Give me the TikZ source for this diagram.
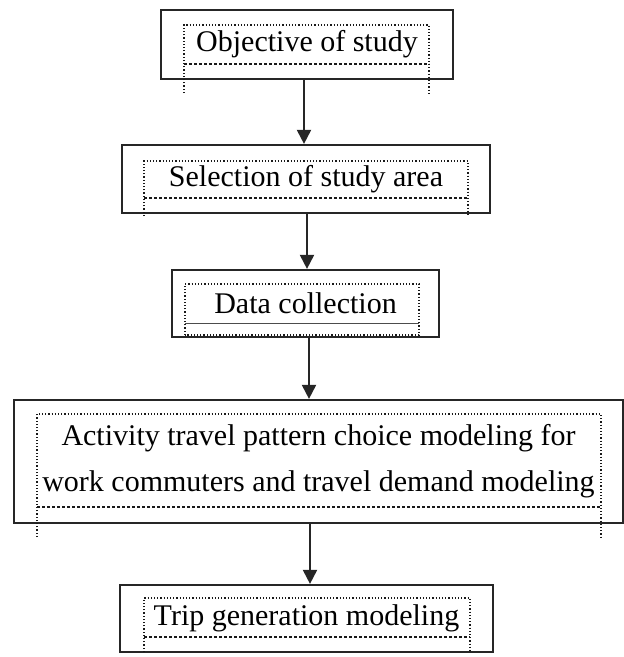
\documentclass[tikz,border=0pt]{standalone}
\usepackage{fontspec}
\setmainfont{Liberation Serif}
\usetikzlibrary{arrows.meta}
\tikzset{
  stepbox/.style={draw=black!85, line width=2.2pt, fill=white, inner sep=0pt,
    align=center, font=\fontsize{30}{46}\selectfont},
  flow/.style={line width=2pt, draw=black!85, -{Triangle[width=14pt,length=14pt]}},
  frameline/.style={line width=1.2pt, dotted, draw=black!90},
  framebase/.style={line width=1.2pt, densely dashed, draw=black!90},
  framesolid/.style={line width=0.8pt, draw=black!70}
}
\begin{document}
\begin{tikzpicture}[x=1pt,y=-1pt]
\useasboundingbox (0,0) rectangle (624,657);
% boxes
\node[stepbox, minimum width=292pt, minimum height=69pt] (b1) at (307,44.5) {Objective of study};
\node[stepbox, minimum width=368pt, minimum height=68pt] (b2) at (306,179) {Selection of study area};
\node[stepbox, minimum width=267pt, minimum height=67pt] (b3) at (305.5,303.5) {Data collection};
\node[stepbox, minimum width=609pt, minimum height=123pt] (b4) at (318.5,461.5) {Activity travel pattern choice modeling for\\work commuters and travel demand modeling};
\node[stepbox, minimum width=373pt, minimum height=67pt] (b5) at (306.5,618.5) {Trip generation modeling};
% inner text-frame marks
\draw[frameline] (184,93) -- (184,25) -- (429,25) -- (429,93);
\draw[framebase] (184,64) -- (429,64);
\draw[frameline] (144,216) -- (144,161) -- (468,161) -- (468,216);
\draw[framebase] (144,198) -- (468,198);
\draw[frameline] (185,335) -- (185,284) -- (419,284) -- (419,335) -- cycle;
\draw[framesolid] (185,323) -- (419,323);
\draw[frameline] (37,537) -- (37,414) -- (601,414) -- (601,537);
\draw[framebase] (37,507) -- (601,507);
\draw[frameline] (144,652) -- (144,598) -- (470,598) -- (470,652);
\draw[framebase] (144,637) -- (470,637);
% connectors
\draw[flow] ([xshift=-3pt]b1.south) -- ([xshift=-3pt]b1.south |- b2.north);
\draw[flow] ([xshift=1pt]b2.south) -- ([xshift=1pt]b2.south |- b3.north);
\draw[flow] ([xshift=3.5pt]b3.south) -- ([xshift=3.5pt]b3.south |- b4.north);
\draw[flow] ([xshift=-8.5pt]b4.south) -- ([xshift=-8.5pt]b4.south |- b5.north);
\end{tikzpicture}
\end{document}
